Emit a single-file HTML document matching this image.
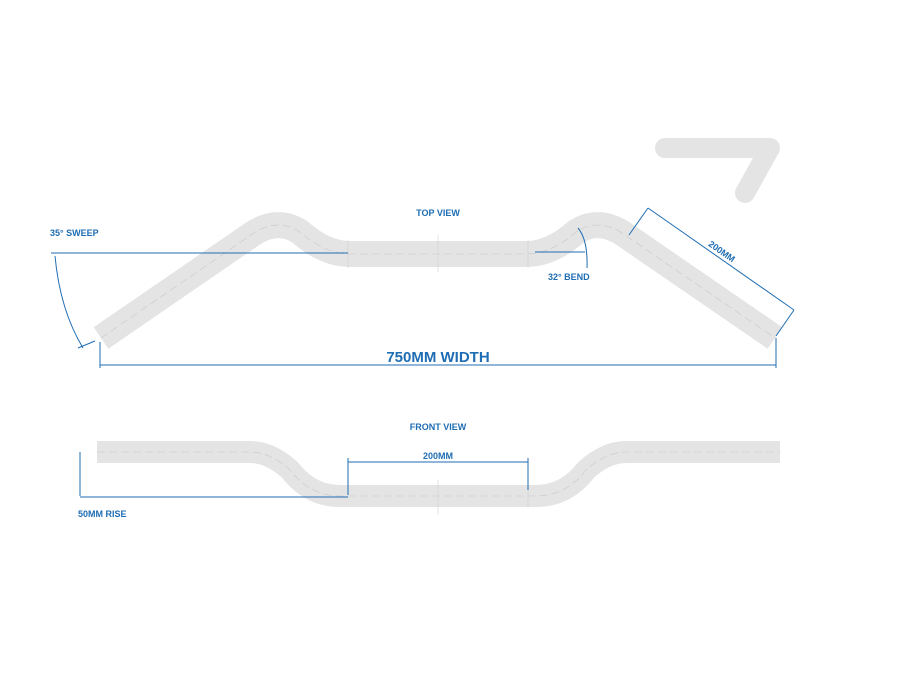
<!DOCTYPE html>
<html><head><style>
body{margin:0;background:#fff;}
svg text{font-family:"Liberation Sans",sans-serif;font-weight:bold;fill:#1f6db3;}
</style></head><body>
<svg width="900" height="670" viewBox="0 0 900 670" xmlns="http://www.w3.org/2000/svg">
<g fill="none" stroke="#e4e4e4" stroke-linejoin="round">
<path d="M101,338 L248,237 Q276,216 300,232 Q325,254 350,254 L526,254 Q551,254 576,232 Q600,216 628,237 L775,338" stroke-width="26"/>
<path d="M97,452 L250,452 Q270,452 290,470 Q310,496 340,496 L536,496 Q566,496 586,470 Q606,452 626,452 L780,452" stroke-width="22"/>
<path d="M665,148 L770,148 L745,193" stroke-width="20" stroke-linecap="round"/>
</g>
<g fill="none" stroke="#c8c8c8" stroke-width="0.6" stroke-dasharray="8,4">
<path d="M101,338 L248,237 Q276,216 300,232 Q325,254 350,254 L526,254 Q551,254 576,232 Q600,216 628,237 L775,338"/>
<path d="M97,452 L250,452 Q270,452 290,470 Q310,496 340,496 L536,496 Q566,496 586,470 Q606,452 626,452 L780,452"/>
</g>
<g stroke="#d0d0d0" stroke-width="0.6">
<line x1="438" y1="235" x2="438" y2="272"/><line x1="438" y1="480" x2="438" y2="515"/>
<line x1="348" y1="240" x2="348" y2="268"/><line x1="528" y1="240" x2="528" y2="268"/>
<line x1="528" y1="484" x2="528" y2="508"/>
</g>
<g stroke="#1f6db3" stroke-width="1" fill="none">
<line x1="51" y1="253" x2="348" y2="253"/>
<path d="M55,256 Q60,310 83,348"/>
<line x1="78" y1="348" x2="95" y2="341"/>
<line x1="100" y1="342" x2="100" y2="368"/>
<line x1="776" y1="338" x2="776" y2="368"/>
<line x1="100" y1="365" x2="776" y2="365"/>
<line x1="535" y1="252" x2="585" y2="252"/>
<path d="M578,228 Q588,240 587,268"/>
<line x1="648" y1="208" x2="794" y2="310"/>
<line x1="648" y1="208" x2="629" y2="235"/>
<line x1="794" y1="310" x2="776" y2="336"/>
<line x1="348" y1="462" x2="528" y2="462"/>
<line x1="348" y1="458" x2="348" y2="495"/>
<line x1="528" y1="458" x2="528" y2="490"/>
<line x1="80" y1="452" x2="80" y2="496"/>
<line x1="80" y1="497" x2="348" y2="497"/>
</g>
<text x="438" y="216" font-size="9" text-anchor="middle">TOP VIEW</text>
<text x="50" y="236" font-size="9">35° SWEEP</text>
<text x="548" y="280" font-size="9">32° BEND</text>
<text x="438" y="362" font-size="15" text-anchor="middle">750MM WIDTH</text>
<text x="0" y="0" font-size="9" text-anchor="middle" transform="translate(720,254) rotate(35)">200MM</text>
<text x="438" y="430" font-size="9" text-anchor="middle">FRONT VIEW</text>
<text x="438" y="459" font-size="9" text-anchor="middle">200MM</text>
<text x="78" y="517" font-size="9">50MM RISE</text>
</svg>
</body></html>
